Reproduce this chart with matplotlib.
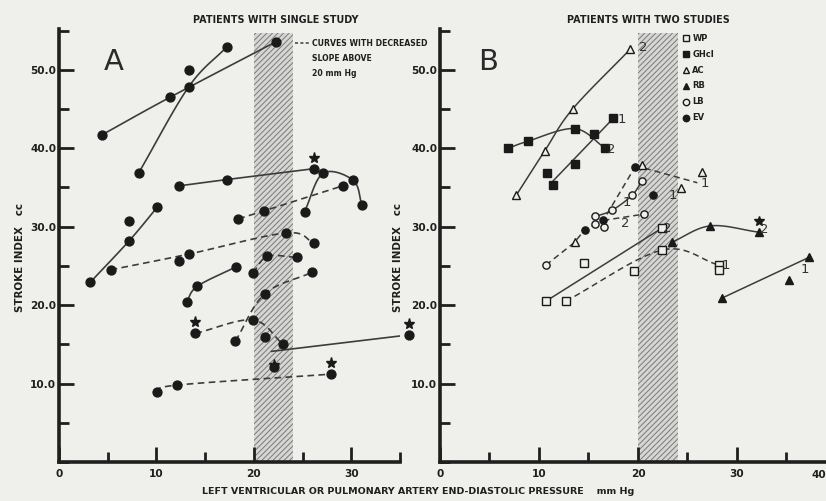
import numpy as np
import matplotlib
matplotlib.use("Agg")
import matplotlib.pyplot as plt
from matplotlib import font_manager
from matplotlib.ticker import MultipleLocator, FormatStrFormatter

# ---------------------------------------------------------------------------
# Panel A - patients with a single study (x: filling pressure mm Hg, y: stroke index cc)
a_dot_x = [4.4, 11.4, 22.3, 8.2, 13.3, 17.2, 13.3, 12.3, 17.2, 26.2, 25.2, 27.1, 30.2,
           31.1, 18.4, 21.0, 29.1, 5.3, 12.3, 13.3, 23.3, 26.2, 3.2, 7.2, 7.2, 10.1,
           13.1, 14.2, 18.2, 19.9, 21.4, 24.4, 18.1, 21.1, 26.0, 14.0, 19.9, 21.1,
           23.0, 35.9, 10.1, 12.1, 22.1, 27.9]
a_dot_y = [41.7, 46.5, 53.6, 36.9, 47.8, 52.9, 50.0, 35.2, 36.0, 37.4, 31.9, 36.8, 35.9,
           32.7, 31.0, 32.0, 35.2, 24.5, 25.6, 26.5, 29.2, 27.9, 22.9, 28.2, 30.7, 32.5,
           20.4, 22.4, 24.9, 24.1, 26.2, 26.1, 15.4, 21.4, 24.2, 16.4, 18.1, 15.9,
           15.0, 16.2, 8.9, 9.8, 12.1, 11.2]
a_star_x = [26.2, 14.0, 35.9, 27.9, 22.1]
a_star_y = [37.4, 16.4, 16.2, 11.2, 12.1]
a_star_lift = [1.4, 1.4, 1.4, 1.4, 0.3]

# hand-fitted curves through the patients' points
a_c1_x, a_c1_y = [4.4, 11.4, 22.3], [41.7, 46.5, 53.6]
a_c2_x, a_c2_y = [8.2, 13.3, 17.2], [36.9, 47.8, 52.9]
a_c3_x, a_c3_y = [12.3, 17.2, 26.2], [35.2, 36.0, 37.4]
a_c4_x, a_c4_y = [25.2, 27.1, 30.2, 31.1], [31.9, 36.8, 35.9, 32.7]
a_c5_x, a_c5_y = [18.4, 21.0, 29.1], [31.0, 32.0, 35.2]
a_c6_x, a_c6_y = [5.3, 13.3, 23.3, 26.2], [24.5, 26.5, 29.2, 27.9]
a_c7_x, a_c7_y = [3.2, 7.2, 10.1], [22.9, 28.2, 32.5]
a_c8_x, a_c8_y = [13.1, 14.2, 18.2], [20.4, 22.4, 24.9]
a_c9_x, a_c9_y = [19.9, 21.4, 24.4], [24.1, 26.2, 26.1]
a_c10_x, a_c10_y = [18.1, 21.1, 26.0], [15.4, 21.4, 24.2]
a_c11_x, a_c11_y = [14.0, 19.9, 23.0], [16.4, 18.1, 15.0]
a_c12_x, a_c12_y = [21.8, 35.9], [14.1, 16.2]
a_c13_x, a_c13_y = [10.1, 12.1, 27.9], [8.9, 9.8, 11.2]

# ---------------------------------------------------------------------------
# Panel B - patients with two studies, one marker per patient
b_names = ["WP", "GHcl", "AC", "RB", "LB", "EV"]
b_wp_x, b_wp_y = [10.7, 12.7, 14.5, 19.6, 22.4, 22.4, 28.2, 28.2], [20.5, 20.5, 25.4, 24.3, 29.8, 27.0, 25.1, 24.5]
b_gh_x, b_gh_y = [6.9, 8.9, 13.6, 16.7, 10.8, 11.4, 13.6, 15.6, 17.5], [40.0, 40.9, 42.5, 40.0, 36.8, 35.3, 38.0, 41.8, 43.8]
b_ac_x, b_ac_y = [7.7, 10.6, 13.4, 19.2, 13.6, 20.4, 24.4, 26.5], [34.0, 39.7, 45.0, 52.6, 28.0, 37.8, 34.9, 37.0]
b_rb_x, b_rb_y = [23.4, 27.3, 32.2, 28.5, 35.3, 37.3], [28.0, 30.1, 29.3, 20.9, 23.2, 26.1]
b_lb_x, b_lb_y = [10.7, 15.7, 15.7, 16.6, 17.4, 19.4, 20.4, 20.6], [25.1, 31.3, 30.3, 29.9, 32.1, 34.0, 35.8, 31.6]
b_ev_x, b_ev_y = [14.6, 16.5, 19.7, 21.5], [29.6, 30.8, 37.6, 34.0]
b_star_x, b_star_y = [32.2], [29.3]

b_ac2_x, b_ac2_y = [7.7, 10.6, 13.4, 19.2], [34.0, 39.7, 45.0, 52.6]
b_gh2_x, b_gh2_y = [6.9, 8.9, 13.6, 16.7], [40.0, 40.9, 42.5, 40.0]
b_gh1_x, b_gh1_y = [11.4, 17.5], [35.8, 43.8]
b_ev2_x, b_ev2_y = [10.7, 13.6, 14.6, 16.5, 19.7], [25.1, 28.0, 29.6, 30.8, 37.6]
b_ac1_x, b_ac1_y = [19.7, 26.0], [37.8, 35.6]
b_lb1_x, b_lb1_y = [15.7, 17.4, 19.4, 20.4], [31.3, 32.1, 34.0, 35.8]
b_lb2_x, b_lb2_y = [16.5, 20.6], [30.8, 31.6]
b_wp2_x, b_wp2_y = [10.7, 22.4], [20.5, 29.8]
b_wp1_x, b_wp1_y = [12.7, 22.4, 28.2], [20.5, 27.0, 25.1]
b_rb2_x, b_rb2_y = [23.4, 27.3, 32.2], [28.0, 30.1, 29.3]
b_rb1_x, b_rb1_y = [28.5, 37.3], [20.9, 26.1]

# study number written at the end of each curve
b_tag_text = ["2", "1", "2", "1", "1", "1", "2", "2", "1", "2", "1"]
b_tag_x = [20.5, 18.4, 17.3, 26.8, 23.5, 18.9, 18.7, 23.0, 28.9, 32.8, 36.9]
b_tag_y = [52.9, 43.7, 39.9, 35.5, 34.0, 33.1, 30.4, 29.8, 25.1, 29.6, 24.5]

X_TICKS = [0, 10, 20, 30]
X_LAST = 40
Y_TICKS = [10, 20, 30, 40, 50]

# ---------------------------------------------------------------------------
_installed = {f.name for f in font_manager.fontManager.ttflist}
NARROW = "Liberation Sans Narrow" if "Liberation Sans Narrow" in _installed else "DejaVu Sans"
PAPER = "#efefec"
INK = "#1f1f1f"
LINE = "#3c3c3c"
DASH = (0, (4, 2.6))


def catmull_rom(xs, ys, n=40):
    pts = np.column_stack([xs, ys]).astype(float)
    if len(pts) < 3:
        return pts[:, 0], pts[:, 1]
    P = np.vstack([2 * pts[0] - pts[1], pts, 2 * pts[-1] - pts[-2]])
    t = np.linspace(0, 1, n)[:, None]
    out = []
    for i in range(1, len(P) - 2):
        p0, p1, p2, p3 = P[i - 1], P[i], P[i + 1], P[i + 2]
        seg = 0.5 * (2 * p1 + (p2 - p0) * t + (2 * p0 - 5 * p1 + 4 * p2 - p3) * t ** 2
                     + (3 * p1 - p0 - 3 * p2 + p3) * t ** 3)
        out.append(seg if i == 1 else seg[1:])
    seg = np.vstack(out)
    return seg[:, 0], seg[:, 1]


def curve(ax, xs, ys, dashed=False, smooth=True, lw=1.2):
    if smooth:
        cx, cy = catmull_rom(xs, ys)
    else:
        cx, cy = xs, ys
    ax.plot(cx, cy, color=LINE, lw=lw, ls=DASH if dashed else "-",
            solid_capstyle="round", zorder=3)


def style_axes(ax, xmax):
    ax.set_facecolor("none")
    ax.set_xlim(0, xmax)
    ax.set_ylim(0, 55.2)
    for s in ("top", "right"):
        ax.spines[s].set_visible(False)
    for s in ("left", "bottom"):
        ax.spines[s].set_linewidth(2.6)
        ax.spines[s].set_color(INK)
    ax.xaxis.set_minor_locator(MultipleLocator(5))
    ax.yaxis.set_minor_locator(MultipleLocator(5))
    ax.set_xticks(X_TICKS)
    ax.set_yticks(Y_TICKS)
    ax.yaxis.set_major_formatter(FormatStrFormatter("%.1f"))
    ax.tick_params(which="major", direction="in", length=11, width=2.0, color=INK,
                   labelsize=7.6, labelcolor=INK, pad=2)
    ax.tick_params(which="minor", direction="in", length=7, width=2.0, color=INK)
    ax.tick_params(axis="x", which="major", pad=5)
    for lab in ax.get_xticklabels() + ax.get_yticklabels():
        lab.set_fontfamily(NARROW)
        lab.set_fontweight("bold")
    ax.axvspan(20, 24, ymin=0, ymax=0.99, facecolor="#d6d6d4", edgecolor="#7a7a7a",
               hatch="//////", lw=0, zorder=1)


plt.rcParams["hatch.linewidth"] = 0.7
fig = plt.figure(figsize=(8.26, 5.01), dpi=100, facecolor=PAPER)
axA = fig.add_axes([59 / 826, 39 / 501, 341 / 826, 433 / 501])
axB = fig.add_axes([440 / 826, 39 / 501, 386 / 826, 433 / 501])
style_axes(axA, 35.0)
style_axes(axB, 39.0)
# the last x label of panel B sits against the right edge of the sheet
axB.text(1.0, -0.018, str(X_LAST), transform=axB.transAxes, fontsize=7.6,
         family=NARROW, fontweight="bold", color=INK, ha="right", va="top")

# ---- panel A ------------------------------------------------------------
a_curves = [
    (a_c1_x, a_c1_y, False), (a_c2_x, a_c2_y, False), (a_c3_x, a_c3_y, False),
    (a_c4_x, a_c4_y, False), (a_c5_x, a_c5_y, True), (a_c6_x, a_c6_y, True),
    (a_c7_x, a_c7_y, False), (a_c8_x, a_c8_y, False), (a_c9_x, a_c9_y, True),
    (a_c10_x, a_c10_y, True), (a_c11_x, a_c11_y, True), (a_c12_x, a_c12_y, False),
    (a_c13_x, a_c13_y, True),
]
for cx, cy, dashed in a_curves:
    curve(axA, cx, cy, dashed)
axA.plot(a_dot_x, a_dot_y, "o", ms=6.4, color="#1a1a1a", mec="#1a1a1a", zorder=4,
         clip_on=False)
axA.plot(a_star_x, np.add(a_star_y, a_star_lift), "*", ms=8, color="#1a1a1a", zorder=5,
         clip_on=False)

axA.text(5.6, 51.0, "A", fontsize=21, family=NARROW, color="#2a2a2a",
         ha="center", va="center")
axA.plot([24.2, 25.7], [53.45, 53.45], color=LINE, lw=1.1, ls=(0, (2, 1.5)), clip_on=False)
for txt, yy in zip(["CURVES WITH DECREASED", "SLOPE ABOVE", "20 mm Hg"], [53.4, 51.4, 49.5]):
    axA.text(26.0, yy, txt, fontsize=5.6, family=NARROW, fontweight="bold", color=INK,
             ha="left", va="center", clip_on=False)

# ---- panel B ------------------------------------------------------------
b_curves = [
    (b_ac2_x, b_ac2_y, False, True), (b_gh2_x, b_gh2_y, False, True),
    (b_gh1_x, b_gh1_y, False, False), (b_ev2_x, b_ev2_y, True, False),
    (b_ac1_x, b_ac1_y, True, False), (b_lb1_x, b_lb1_y, False, True),
    (b_lb2_x, b_lb2_y, True, False), (b_wp2_x, b_wp2_y, False, False),
    (b_wp1_x, b_wp1_y, True, True), (b_rb2_x, b_rb2_y, False, True),
    (b_rb1_x, b_rb1_y, False, False),
]
for cx, cy, dashed, smooth in b_curves:
    curve(axB, cx, cy, dashed, smooth, lw=1.1)

b_series = [
    (b_wp_x, b_wp_y, "s", False), (b_gh_x, b_gh_y, "s", True),
    (b_ac_x, b_ac_y, "^", False), (b_rb_x, b_rb_y, "^", True),
    (b_lb_x, b_lb_y, "o", False), (b_ev_x, b_ev_y, "o", True),
]
for (sx, sy, mk, filled) in b_series:
    axB.plot(sx, sy, mk, ms=5.2, mew=1.0, mec="#1a1a1a",
             mfc="#1a1a1a" if filled else PAPER, zorder=4, clip_on=False)
axB.plot(b_star_x, np.add(b_star_y, 1.4), "*", ms=7.5, color="#1a1a1a", zorder=5)
for t, tx, ty in zip(b_tag_text, b_tag_x, b_tag_y):
    axB.text(tx, ty, t, fontsize=9.5, family=NARROW, color="#333333",
             ha="center", va="center", zorder=5)

axB.text(4.9, 51.0, "B", fontsize=21, family=NARROW, color="#2a2a2a",
         ha="center", va="center")

# marker key
for i, ((sx, sy, mk, filled), name) in enumerate(zip(b_series, b_names)):
    ky = 54.0 - i * 2.02
    axB.plot([24.9], [ky], mk, ms=4.6, mew=1.0, mec="#1a1a1a",
             mfc="#1a1a1a" if filled else PAPER, clip_on=False, zorder=5)
    axB.text(25.5, ky, name, fontsize=6.0, family=NARROW, fontweight="bold",
             color=INK, ha="left", va="center", clip_on=False)

# ---- titles and axis labels --------------------------------------------
fig.text(276 / 826, 1 - 20 / 501, "PATIENTS WITH SINGLE STUDY", fontsize=6.9,
         family=NARROW, fontweight="bold", color=INK, ha="center", va="center")
fig.text(648 / 826, 1 - 20 / 501, "PATIENTS WITH TWO STUDIES", fontsize=6.9,
         family=NARROW, fontweight="bold", color=INK, ha="center", va="center")
for xp in (20, 398):
    fig.text(xp / 826, 1 - 258 / 501, "STROKE INDEX   cc", rotation=90, fontsize=7.4,
             family=NARROW, fontweight="bold", color=INK, ha="center", va="center")
fig.text(418 / 826, 1 - 491 / 501,
         "LEFT VENTRICULAR OR PULMONARY ARTERY END-DIASTOLIC PRESSURE    mm Hg",
         fontsize=6.8, family=NARROW, fontweight="bold", color=INK,
         ha="center", va="center")

fig.savefig("out.png", dpi=100, facecolor=PAPER)
